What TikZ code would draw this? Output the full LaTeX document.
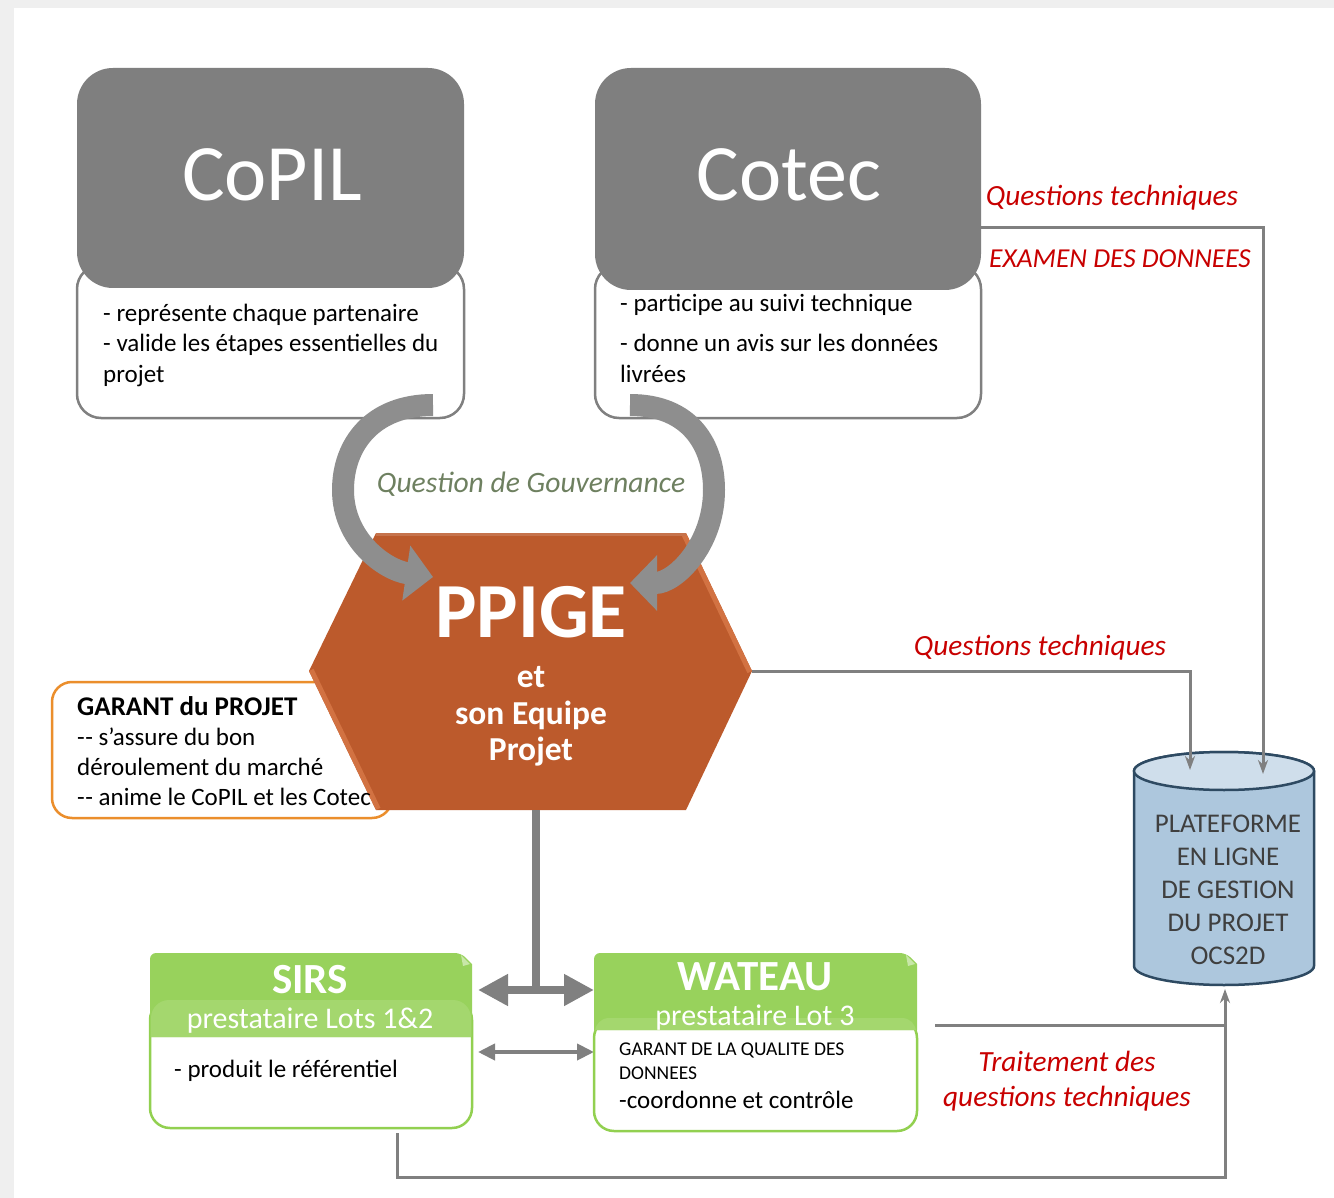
\documentclass[tikz,border=0pt]{standalone}
\usepackage{fontspec}
\setmainfont{Carlito}
\usetikzlibrary{arrows.meta,calc}
\definecolor{boxgray}{HTML}{7F7F7F}
\definecolor{linegray}{HTML}{808080}
\definecolor{arrowgray}{HTML}{8E8E8E}
\definecolor{hexfill}{HTML}{BC5A2C}
\definecolor{hexlight}{HTML}{D27242}
\definecolor{orangeline}{HTML}{EB8E2C}
\definecolor{greenA}{HTML}{98D25C}
\definecolor{greenB}{HTML}{A4D76E}
\definecolor{greenline}{HTML}{92D050}
\definecolor{cylbody}{HTML}{ADC7DD}
\definecolor{cyltop}{HTML}{CFDEEB}
\definecolor{cylline}{HTML}{2E4A62}
\definecolor{cyltext}{HTML}{3F3F3F}
\definecolor{myred}{HTML}{C80000}
\definecolor{govgreen}{HTML}{6E8060}
\definecolor{pageshade}{HTML}{EFEFEF}
\newcommand\twohy{-\kern0.5pt-}
\begin{document}
\begin{tikzpicture}[x=1pt,y=-1pt,
  whitebox/.style={draw=linegray, line width=2.5pt, fill=white, rounded corners=24pt, inner sep=0pt},
  darkbox/.style={fill=boxgray, draw=none, rounded corners=36pt, inner sep=0pt},
  orangebox/.style={draw=orangeline, line width=2.5pt, fill=white, rounded corners=20pt, inner sep=0pt},
  greenbody/.style={draw=greenline, line width=2.5pt, fill=white, rounded corners=20pt, inner sep=0pt},
  bodytxt/.style={font=\fontsize{25}{30}\selectfont, text=black, inner sep=0pt, anchor=base west},
  smalltxt/.style={font=\fontsize{19.5}{24}\selectfont, text=black, inner sep=0pt, anchor=base west},
  bigtxt/.style={font=\fontsize{80}{96}\selectfont, text=white, inner sep=0pt, anchor=base},
  hextxt/.style={font=\fontsize{33.5}{38}\selectfont\bfseries, text=white, inner sep=0pt, anchor=base},
  greentitle/.style={font=\fontsize{43}{50}\selectfont\bfseries, text=white, inner sep=0pt, anchor=base},
  greensub/.style={font=\fontsize{30}{34}\selectfont, text=white, inner sep=0pt, anchor=base},
  redlbl/.style={font=\fontsize{29.3}{34}\selectfont\itshape, text=myred, inner sep=0pt, anchor=base},
  cyltxt/.style={font=\fontsize{27}{32}\selectfont, text=cyltext, inner sep=0pt, anchor=base},
  conn/.style={draw=linegray, line width=3pt, -{Stealth[length=14pt,width=10pt]}},
  connplain/.style={draw=linegray, line width=3pt},
  curvarrow/.style={draw=arrowgray, line width=22pt, -{Triangle[length=27pt,width=54pt]}},
  busline/.style={draw=linegray, line width=8pt},
  busarrow/.style={draw=linegray, line width=8pt, {Triangle[length=30pt,width=30pt]}-{Triangle[length=30pt,width=30pt]}},
  thinbus/.style={draw=linegray, line width=4pt, {Triangle[length=17pt,width=16pt]}-{Triangle[length=17pt,width=16pt]}}
]
\useasboundingbox (0,0) rectangle (1334,1198);
% page background
\fill[pageshade] (0,0) rectangle (1334,1198);
\fill[white] (14,8) rectangle (1334,1198);

% ---------- CoPIL ----------
\node[whitebox, minimum width=387pt, minimum height=153pt] (copilbody) at (270.5,341.5) {};
\node[darkbox, minimum width=387pt, minimum height=220pt] (copil) at (270.5,178) {};
\node[bigtxt] (copilT) at (272,201) {CoPIL};
\node[bodytxt] (copil1) at (103,322) {- représente chaque partenaire};
\node[bodytxt] (copil2) at (103,352) {- valide les étapes essentielles du};
\node[bodytxt] (copil3) at (103,382) {projet};

% ---------- Cotec ----------
\node[whitebox, minimum width=386pt, minimum height=153pt] (cotecbody) at (788,341.5) {};
\node[darkbox, minimum width=386pt, minimum height=222pt] (cotec) at (788,179) {};
\node[bigtxt] (cotecT) at (789,201) {Cotec};
\node[bodytxt] (cotec1) at (620,312) {- participe au suivi technique};
\node[bodytxt] (cotec2) at (620,352) {- donne un avis sur les données};
\node[bodytxt] (cotec3) at (620,382) {livrées};

% ---------- GARANT box ----------
\node[orangebox, minimum width=340pt, minimum height=136pt] (garant) at (222,750) {};

% ---------- connectors to platform ----------
\coordinate (hexR) at (752,671);
\coordinate (cotecR) at (981,228);
\coordinate (cylA) at (1263,774);
\coordinate (cylB) at (1190,770);
\draw[conn] (cotecR) -| (cylA);
\draw[conn] (hexR) -| (cylB);

% ---------- hexagon ----------
\path[fill=hexfill] (376,533) -- (686,533) -- (752,671) -- (686,810) -- (376,810) -- (309,671) -- cycle;
\begin{scope}
  \clip (376,533) -- (686,533) -- (752,671) -- (686,810) -- (376,810) -- (309,671) -- cycle;
  \draw[hexlight, line width=10pt] (686,533) -- (752,671);
  \draw[hexlight, line width=10pt] (309,671) -- (376,810);
  \draw[hexfill!85!white, line width=5pt] (376,533) -- (686,533);
\end{scope}
\node[font=\fontsize{78}{90}\selectfont\bfseries, text=white, inner sep=0pt, anchor=base] (ppige) at (531,637) {PPIGE};
\node[hextxt] (ppige1) at (531,687) {et};
\node[hextxt] (ppige2) at (531,724) {son Equipe};
\node[hextxt] (ppige3) at (531,760) {Projet};

% GARANT text
\node[bodytxt, font=\fontsize{27}{30}\selectfont\bfseries] (gar1) at (77,715) {GARANT du PROJET};
\node[bodytxt] (gar2) at (77,745) {\twohy{} s’assure du bon};
\node[bodytxt] (gar3) at (77,775) {déroulement du marché};
\node[bodytxt] (gar4) at (77,805) {\twohy{} anime le CoPIL et les Cotec};

% ---------- curved governance arrows ----------
\coordinate (lt) at (433,405);
\coordinate (lh) at (433,577);
\coordinate (rt) at (630,405);
\coordinate (rh) at (630,583);
\draw[curvarrow] (lt) .. controls (372,405) and (343,445) .. (343,490) .. controls (343,540) and (385,570) .. (lh);
\draw[curvarrow] (rt) .. controls (690,405) and (714,445) .. (714,490) .. controls (714,545) and (675,583) .. (rh);
\node[font=\fontsize{29.6}{34}\selectfont\itshape, text=govgreen, inner sep=0pt, anchor=base] (gov) at (531,492) {Question de Gouvernance};

% ---------- red labels ----------
\node[redlbl] (qt1) at (1112,206) {Questions techniques};
\node[redlbl, font=\fontsize{27.4}{32}\selectfont\itshape] (exam) at (1120,268) {EXAMEN DES DONNEES};
\node[redlbl] (qt2) at (1040,655) {Questions techniques};
\node[redlbl] (trt1) at (1067,1071) {Traitement des};
\node[redlbl] (trt2) at (1067,1106) {questions techniques};

% ---------- cylinder ----------
\path[fill=cylbody, draw=cylline, line width=2.5pt]
  (1134,771) -- (1134,966) arc[start angle=180, end angle=360, x radius=90pt, y radius=19pt]
  -- (1314,771) arc[start angle=0, end angle=180, x radius=90pt, y radius=19pt] -- cycle;
\draw[fill=cyltop, draw=cylline, line width=2.5pt] (1224,771) ellipse [x radius=90pt, y radius=19pt];
\coordinate (cylC) at (1225,989);
\node[cyltxt] (pl1) at (1228,832) {PLATEFORME};
\node[cyltxt] (pl2) at (1228,865) {EN LIGNE};
\node[cyltxt] (pl3) at (1228,898) {DE GESTION};
\node[cyltxt] (pl4) at (1228,931) {DU PROJET};
\node[cyltxt] (pl5) at (1228,964) {OCS2D};
% re-draw arrow ends over the top of cylinder
\draw[conn] ($(cylA)+(0,-30)$) -- (cylA);
\draw[conn] ($(cylB)+(0,-30)$) -- (cylB);

% ---------- PPIGE bus ----------
\coordinate (hexB) at (536,810);
\coordinate (busC) at (536,990);
\coordinate (busL) at (478,990);
\coordinate (busR) at (594,990);
\coordinate (thinL) at (478,1052);
\coordinate (thinR) at (594,1052);
\draw[busline] (hexB) -- (busC);
\draw[busarrow] (busL) -- (busR);
\draw[thinbus] (thinL) -- (thinR);

% ---------- SIRS ----------
\node[greenbody, minimum width=322pt, minimum height=128pt] (sirsbody) at (311,1064) {};
\path[fill=greenA] (150,1037) [rounded corners=6pt]-- (150,953) -- (461,953) [sharp corners]-- (472,964) -- (472,1037) -- cycle;
\path[fill=greenB, rounded corners=18pt] (151,1037) -- (151,1000) -- (471,1000) -- (471,1037);
\fill[greenB!60!white] (461,955) -- (470,964) -- (463,966) -- cycle;
\node[greentitle] (sirsT) at (310,993) {SIRS};
\node[greensub] (sirsS) at (310,1028) {prestataire Lots 1\&2};
\node[bodytxt] (sirs1) at (174,1077) {- produit le référentiel};

% ---------- WATEAU ----------
\node[greenbody, minimum width=323pt, minimum height=113pt] (watbody) at (755.5,1074.5) {};
\path[fill=greenA] (594,1030) [rounded corners=6pt]-- (594,953) -- (906,953) [sharp corners]-- (917,964) -- (917,1030) -- cycle;
\path[fill=greenB, rounded corners=14pt] (595,1030) -- (595,1018) -- (916,1018) -- (916,1030);
\fill[greenB!60!white] (906,955) -- (915,964) -- (908,966) -- cycle;
\node[greentitle] (watT) at (755,990) {WATEAU};
\node[greensub] (watS) at (755,1025) {prestataire Lot 3};
\node[smalltxt] (wat1) at (619,1055) {GARANT DE LA QUALITE DES};
\node[smalltxt] (wat2) at (619,1079) {DONNEES};
\node[bodytxt] (wat3) at (619,1108) {-coordonne et contrôle};

% ---------- bottom connectors ----------
\coordinate (sirsB) at (397,1133);
\coordinate (cornerBR) at (1225,1177);
\coordinate (watR) at (935,1025);
\coordinate (jn) at (1225,1025);
\draw[conn] (sirsB) |- (cornerBR) -- (cylC);
\draw[connplain] (watR) -- (jn);
\end{tikzpicture}
\end{document}
